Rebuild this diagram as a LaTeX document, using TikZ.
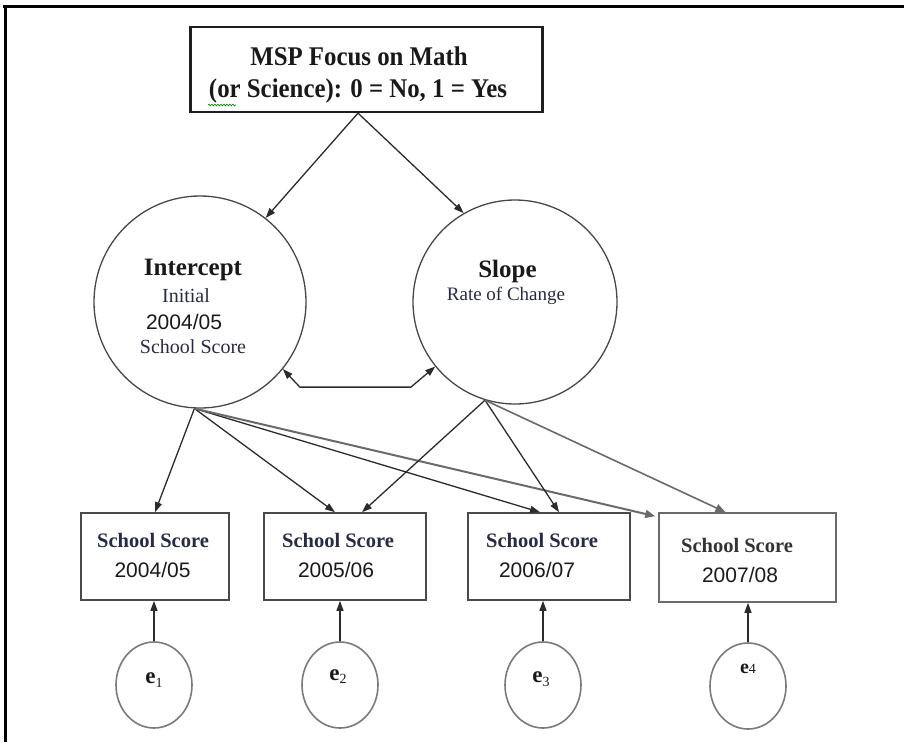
\documentclass[tikz,border=0pt]{standalone}
\usepackage{fontspec}
\setmainfont{Liberation Serif}
\newfontfamily\tsans{Liberation Sans}
\newfontfamily\tserifc[FakeStretch=0.92]{Liberation Serif}
\usetikzlibrary{arrows.meta,shapes.geometric,decorations.pathmorphing}
\definecolor{lc}{HTML}{2B2B2B}
\definecolor{gc}{HTML}{6A6A6A}
\definecolor{cc}{HTML}{474747}
\definecolor{bc}{HTML}{4A4A4A}
\definecolor{bcg}{HTML}{6B6B6B}
\definecolor{ec}{HTML}{7A7A7A}
\definecolor{navy}{HTML}{262A45}
\begin{document}
\begin{tikzpicture}[x=1pt,y=-1pt,
  conn/.style={draw=lc, line width=1.3pt, -{Triangle[length=10pt,width=7pt]}},
  gconn/.style={draw=gc, line width=1.6pt, -{Triangle[length=10pt,width=8pt]}},
  dconn/.style={draw=lc, line width=1.3pt, {Triangle[length=10pt,width=7pt]}-{Triangle[length=10pt,width=7pt]}},
  latent/.style={circle, draw=cc, line width=1.3pt, inner sep=0pt},
  obsbox/.style={rectangle, draw=bc, line width=1.6pt, inner sep=0pt, minimum height=87pt},
  errc/.style={ellipse, draw=ec, line width=1.6pt, minimum width=76pt, minimum height=86pt, inner sep=0pt},
  topbox/.style={rectangle, draw=black!88, line width=2.2pt, inner sep=0pt, minimum width=352pt, minimum height=85pt},
  txt/.style={anchor=base, inner sep=0pt},
  ttop/.style={txt, font=\tserifc\fontsize{27}{32}\selectfont\bfseries, text=black!90},
  tbig/.style={txt, font=\fontsize{25}{30}\selectfont\bfseries, text=black!90},
  tsmall/.style={txt, font=\fontsize{20}{24}\selectfont, text=navy},
  tyear/.style={txt, font=\tsans\fontsize{21}{25}\selectfont, text=black!90},
  tbox/.style={txt, font=\fontsize{20.5}{24}\selectfont\bfseries, text=navy},
  terr/.style={txt, font=\fontsize{23}{26}\selectfont, text=black!90}
]
\useasboundingbox (0,0) rectangle (904,742);
% page frame
\draw[line width=3pt] (3,6) -- (904,6);
\draw[line width=3pt] (5,6) -- (5,742);

% top box
\node[topbox] (msp) at (366.5,69.5) {};
\node[ttop] (msp1) at (359,65) {MSP Focus on Math};
\node[ttop] (msp2) at (358,97) {(or Science): 0 = No, 1 = Yes};
\draw[green!55!black, line width=0.7pt, decorate, decoration={snake, amplitude=0.8pt, segment length=3pt}] (208,105) -- (236,105);

% latent circles
\node[latent, minimum size=212pt] (icpt) at (200,302) {};
\node[latent, minimum size=204pt] (slope) at (515,302) {};
\node[tbig] (icptA) at (193,275.5) {Intercept};
\node[tsmall] (icptB) at (186,302) {Initial};
\node[tyear] (icptC) at (184,329) {2004/05};
\node[tsmall] (icptD) at (193,353) {School Score};
\node[tbig] (slopeA) at (507.5,277) {Slope};
\node[tsmall, font=\fontsize{19}{23}\selectfont] (slopeB) at (506,300) {Rate of Change};

% observed boxes
\node[obsbox, minimum width=148pt] (b1) at (155,556.5) {};
\node[obsbox, minimum width=162pt] (b2) at (345,556.5) {};
\node[obsbox, minimum width=162pt] (b3) at (549,556.5) {};
\node[obsbox, draw=bcg, minimum width=177pt, minimum height=89pt] (b4) at (747.5,557.5) {};
\node[tbox] (b1a) at (153,547) {School Score};
\node[tyear] (b1b) at (152.5,577) {2004/05};
\node[tbox] (b2a) at (338,547) {School Score};
\node[tyear] (b2b) at (336,577) {2005/06};
\node[tbox] (b3a) at (542,547) {School Score};
\node[tyear] (b3b) at (537,577) {2006/07};
\node[tbox, text=black!80] (b4a) at (737,552) {School Score};
\node[tyear] (b4b) at (740,582) {2007/08};

% error ellipses
\node[errc] (e1) at (154,685) {};
\node[errc] (e2) at (340,685) {};
\node[errc] (e3) at (543,685) {};
\node[errc] (e4) at (748,686) {};
\node[terr] (e1t) at (154,683) {\textbf{e}\raisebox{-4pt}{\fontsize{14}{14}\selectfont 1}};
\node[terr] (e2t) at (338,680) {\textbf{e}\raisebox{-3pt}{\fontsize{14}{14}\selectfont 2}};
\node[terr] (e3t) at (541,682) {\textbf{e}\raisebox{-4pt}{\fontsize{14}{14}\selectfont 3}};
\node[terr] (e4t) at (748,673) {\fontsize{20}{20}\selectfont\textbf{e}\fontsize{14}{14}\selectfont 4};

% top arrows
\draw[conn] ([xshift=-8.5pt]msp.south) -- (icpt.52);
\draw[conn] ([xshift=-8.5pt]msp.south) -- (slope.120);

% covariance
\draw[dconn] (icpt.-39) -- ++(17,18) -- ++(111,0) -- (slope.219);

% loadings
\draw[conn] (icpt.267) -- (b1.north);
\draw[conn] (icpt.267) -- ([xshift=-10pt]b2.north);
\draw[conn] (icpt.267) -- ([xshift=-9pt]b3.north);
\draw[gconn, line width=2pt] (icpt.267) -- ([xshift=-3pt,yshift=-4pt]b4.north west);
\draw[conn] (slope.253) -- ([xshift=17pt]b2.north);
\draw[conn] (slope.253) -- ([xshift=10pt]b3.north);
\draw[gconn] (slope.253) -- ([xshift=-22pt]b4.north);

% residual arrows
\draw[conn] (e1.north) -- (e1.north |- b1.south);
\draw[conn] (e2.north) -- (e2.north |- b2.south);
\draw[conn] (e3.north) -- (e3.north |- b3.south);
\draw[conn] (e4.north) -- (e4.north |- b4.south);
\end{tikzpicture}
\end{document}
